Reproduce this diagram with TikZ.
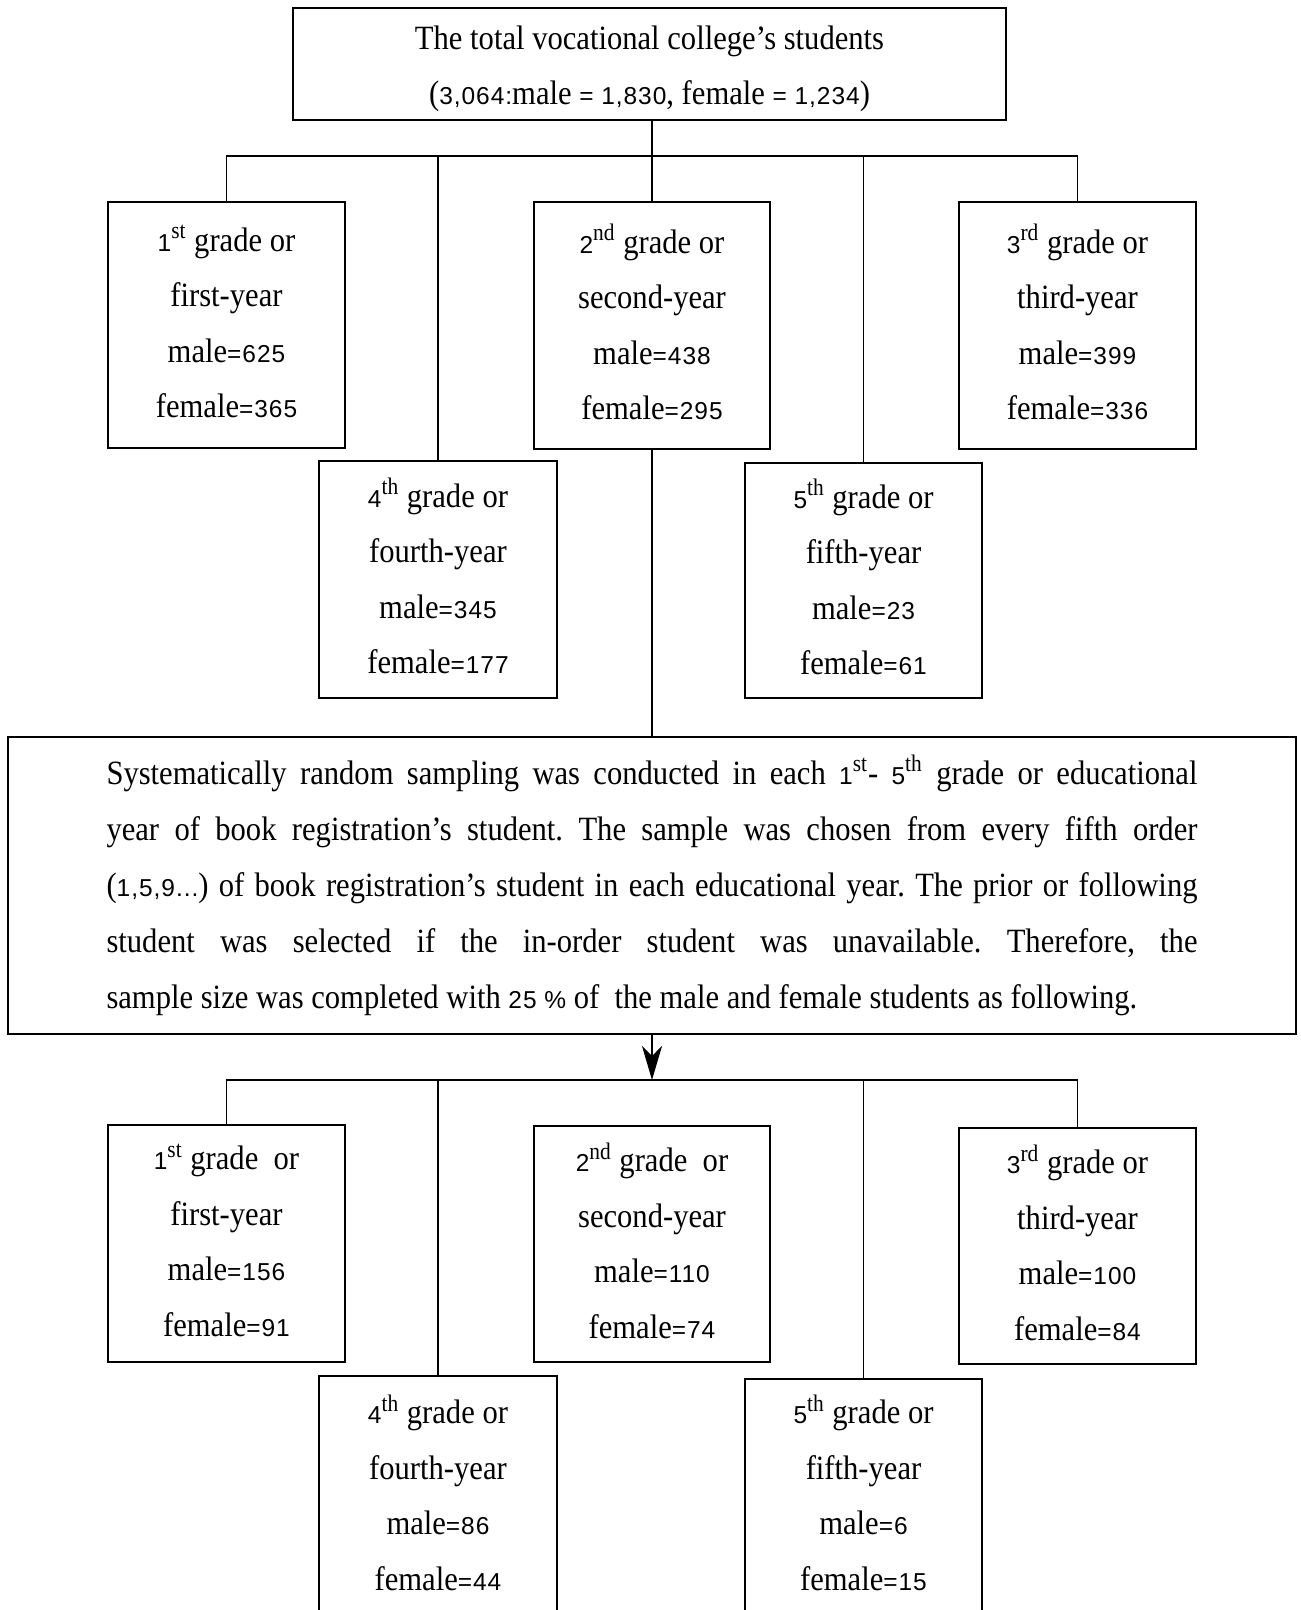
\documentclass[tikz,border=0pt]{standalone}
\usepackage{fontspec}
\setmainfont{Liberation Serif}[FakeStretch=0.9]
\newfontfamily\numf{Liberation Sans}[LetterSpace=4,Scale=0.72]
\newcommand\nm[1]{{\numf #1}}
\usetikzlibrary{arrows.meta}
\tikzset{
  gbox/.style={draw, line width=1.4pt, inner sep=0pt},
  gtxt/.style={align=center, inner sep=0pt, yshift=1.6pt,
    font=\fontsize{17}{27.75}\selectfont},
  ttxt/.style={align=center, inner sep=0pt, yshift=-2.3pt,
    font=\fontsize{17}{27.5}\selectfont},
  thinline/.style={line width=0.55pt},
  mainline/.style={line width=0.9pt},
}
\frenchspacing
\begin{document}
\begin{tikzpicture}[x=0.5pt,y=-0.5pt]
\useasboundingbox (0,0) rectangle (1300,1610);
\fill[white] (0,0) rectangle (1300,1610);
\begin{scope}
\clip (0,0) rectangle (1300,1610);
% top
\node[gbox, minimum width=356.5pt, minimum height=56pt,
  label={[ttxt]center:{The total vocational college's students\\(\nm{3,064:}male \nm{=} \nm{1,830}, female \nm{=} \nm{1,234})}}] (top) at (649.5,64) {};
% first level
\node[gbox, minimum width=118.5pt, minimum height=123pt,
  label={[gtxt]center:{\nm{1}\textsuperscript{st} grade or\\first-year\\male\nm{=625}\\female\nm{=365}}}] (a1) at (226.5,325) {};
\node[gbox, minimum width=118pt, minimum height=123.5pt,
  label={[gtxt]center:{\nm{2}\textsuperscript{nd} grade or\\second-year\\male\nm{=438}\\female\nm{=295}}}] (a2) at (652,325.5) {};
\node[gbox, minimum width=118.5pt, minimum height=123.5pt,
  label={[gtxt]center:{\nm{3}\textsuperscript{rd} grade or\\third-year\\male\nm{=399}\\female\nm{=336}}}] (a3) at (1077.5,325.5) {};
\node[gbox, minimum width=119pt, minimum height=118.5pt,
  label={[gtxt]center:{\nm{4}\textsuperscript{th} grade or\\fourth-year\\male\nm{=345}\\female\nm{=177}}}] (a4) at (438,579.5) {};
\node[gbox, minimum width=118.5pt, minimum height=117.5pt,
  label={[gtxt]center:{\nm{5}\textsuperscript{th} grade or\\fifth-year\\male\nm{=23}\\female\nm{=61}}}] (a5) at (863.5,580.5) {};
% big box
\node[draw, line width=1.4pt, inner sep=0pt, minimum width=644pt, minimum height=148.5pt,
  font=\fontsize{17}{28}\selectfont] (big) at (652,885.5)
  {\vbox{\hsize=545.5pt \baselineskip=28pt
  \hbox to\hsize{Systematically random sampling was conducted in each \nm{1}\textsuperscript{st}- \nm{5}\textsuperscript{th} grade or educational}
  \hbox to\hsize{year of book registration's student. The sample was chosen from every fifth order}
  \hbox to\hsize{(\nm{1,5,9...}) of book registration's student in each educational year. The prior or following}
  \hbox to\hsize{student was selected if the in-order student was unavailable. Therefore, the}
  \hbox to\hsize{sample size was completed with \nm{25 \%} of \ the male and female students as following.\hfil}}};
% second level
\node[gbox, minimum width=118.5pt, minimum height=118.5pt,
  label={[gtxt]center:{\nm{1}\textsuperscript{st} grade\ \ or\\first-year\\male\nm{=156}\\female\nm{=91}}}] (c1) at (226.5,1243.5) {};
\node[gbox, minimum width=118pt, minimum height=118pt,
  label={[gtxt]center:{\nm{2}\textsuperscript{nd} grade\ \ or\\second-year\\male\nm{=110}\\female\nm{=74}}}] (c2) at (652,1244) {};
\node[gbox, minimum width=118.5pt, minimum height=118pt,
  label={[gtxt]center:{\nm{3}\textsuperscript{rd} grade or\\third-year\\male\nm{=100}\\female\nm{=84}}}] (c3) at (1077.5,1246) {};
\node[gbox, minimum width=119pt, minimum height=120pt,
  label={[gtxt]center:{\nm{4}\textsuperscript{th} grade or\\fourth-year\\male\nm{=86}\\female\nm{=44}}}] (c4) at (438,1496) {};
\node[gbox, minimum width=118.5pt, minimum height=117pt,
  label={[gtxt]center:{\nm{5}\textsuperscript{th} grade or\\fifth-year\\male\nm{=6}\\female\nm{=15}}}] (c5) at (863.5,1496) {};
% connectors
\coordinate (bus1) at (652,156);
\coordinate (bus2) at (652,1080);
\draw[mainline] (a2.north |- top.south) -- (a2.north);
\draw[thinline] (a1.north) -- (a1.north |- bus1) -- (a3.north |- bus1) -- (a3.north);
\draw[thinline] (a4.north) -- (a4.north |- bus1);
\draw[thinline] (a5.north) -- (a5.north |- bus1);
\draw[mainline] (a2.south) -- (a2.south |- big.north);
\draw[mainline, -{Stealth[length=17pt,width=10pt,inset=5pt]}] (big.south) -- (bus2);
\draw[thinline] (c1.north) -- (c1.north |- bus2) -- (c3.north |- bus2) -- (c3.north);
\draw[thinline] (c4.north) -- (c4.north |- bus2);
\draw[thinline] (c5.north) -- (c5.north |- bus2);
\end{scope}
\end{tikzpicture}
\end{document}
